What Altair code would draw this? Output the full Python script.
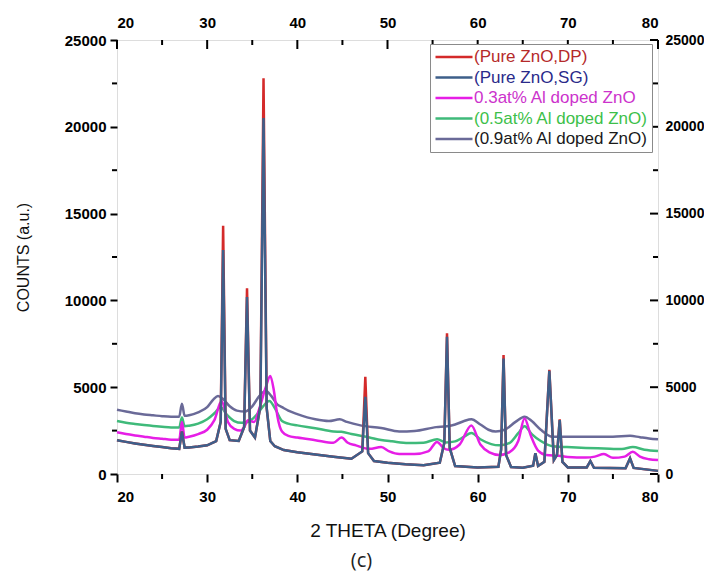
import altair as alt
import pandas as pd

# ---------------- data ----------------
series_names = ["(Pure ZnO,DP)", "(Pure ZnO,SG)", "0.3at% Al doped ZnO",
                "(0.5at% Al doped ZnO)", "(0.9at% Al doped ZnO)"]
line_colors = ["#d42a2a", "#3e5f8a", "#e61ee6", "#3fba7a", "#6a6a98"]
label_colors = ["#b52a2a", "#2a2a8a", "#cc33cc", "#3dbf4a", "#1a1a1a"]

x_major = [20, 30, 40, 50, 60, 70, 80]
x_minor = [25, 35, 45, 55, 65, 75]
y_major = [0, 5000, 10000, 15000, 20000, 25000]
y_minor = [2500, 7500, 12500, 17500, 22500]

sg_x = [20, 21, 22, 23, 24, 25, 26, 26.9, 27.2, 27.5, 28, 29, 30, 31, 31.5, 31.77, 32.05, 32.5, 33.5, 34.1,
        34.42, 34.75, 35.3, 35.9, 36.25, 36.6, 37, 37.5, 38.5, 40, 42, 44, 46, 47.2, 47.54, 47.85, 48.5, 50, 52, 54,
        55.8, 56.3, 56.6, 56.9, 57.5, 60, 62.3, 62.6, 62.87, 63.15, 63.7, 65, 66.15, 66.4, 66.7, 67.4, 67.95, 68.45, 68.8, 69.1,
        69.4, 70, 72.1, 72.5, 72.9, 76.4, 76.9, 77.3, 80]
sg_y = [1950, 1850, 1760, 1680, 1610, 1550, 1480, 1450, 2450, 1520, 1530, 1580, 1650, 1900, 3000, 12900, 2600, 1950, 1900, 2700,
        10200, 2500, 2100, 3900, 20500, 3800, 1900, 1600, 1380, 1250, 1120, 1000, 880, 1300, 4450, 1200, 750, 650, 560, 510,
        650, 1800, 7900, 1500, 460, 380, 420, 1400, 6650, 1100, 400, 360, 480, 1200, 460, 700, 5950, 800, 1100, 3100,
        700, 380, 380, 750, 360, 330, 900, 350, 180]

dp_x = sg_x
dp_y = [1950, 1850, 1760, 1680, 1610, 1550, 1480, 1450, 2450, 1520, 1530, 1580, 1650, 1900, 3000, 14300, 2600, 1950, 1900, 2700,
        10700, 2500, 2100, 3900, 22800, 3800, 1900, 1600, 1380, 1250, 1120, 1000, 880, 1300, 5600, 1200, 750, 650, 560, 510,
        650, 1800, 8100, 1500, 460, 380, 420, 1400, 6850, 1100, 400, 360, 480, 1200, 460, 700, 6000, 800, 1100, 3150,
        700, 380, 380, 750, 360, 330, 900, 350, 180]

mg_x = [20, 21, 22, 23, 24, 25, 26, 26.9, 27.2, 27.5, 28, 29, 30, 30.8, 31.6, 32.3, 33, 33.7, 34.2, 34.5,
        35.2, 35.8, 36.5, 37.0, 37.4, 37.8, 38.3, 39, 40, 42, 44, 44.9, 45.6, 46.5, 48, 49.3, 50.2, 51.3, 53, 54.5,
        55.5, 56.2, 56.8, 58, 59.3, 60.3, 61.3, 62.4, 63.5, 64.5, 65.2, 65.9, 66.7, 67.6, 69, 70, 72, 73, 74, 75,
        76.3, 77.2, 78, 79, 80]
mg_y = [2400, 2300, 2220, 2150, 2080, 2030, 1980, 1980, 3000, 2100, 2150, 2300, 2550, 3100, 4200, 3000, 2600, 2500, 2800, 3100,
        3000, 3800, 5000, 5650, 4800, 3300, 2450, 2200, 2100, 1950, 1800, 2100, 1800, 1650, 1450, 1550, 1300, 1150, 1150, 1300,
        1850, 1500, 1400, 1700, 2800, 1700, 1250, 1100, 1250, 1900, 3200, 2200, 1350, 1100, 1050, 980, 950, 1000, 1150, 930,
        1000, 1280, 1000, 850, 800]

gr_x = [20, 21, 22, 23, 24, 25, 26, 26.9, 27.2, 27.5, 28, 29, 30, 30.8, 31.5, 32.2, 33, 33.8, 34.5, 35.3,
        36.2, 36.9, 37.5, 38.3, 39, 40, 42, 44, 44.9, 46, 48, 49.3, 50.5, 52.3, 54, 55.5, 56.5, 57.5, 58.5, 59.3,
        60.3, 61.5, 62.4, 63.5, 64.5, 65.2, 66, 67, 68.3, 69.9, 72, 74, 76, 77.2, 78.5, 80]
gr_y = [3050, 2950, 2880, 2820, 2770, 2720, 2680, 2680, 3250, 2750, 2780, 2900, 3150, 3500, 3850, 3400, 3050, 2950, 3000, 3300,
        3900, 4200, 3800, 3050, 2900, 2800, 2640, 2450, 2430, 2300, 2100, 1960, 1880, 1780, 1800, 2000, 1820, 1880, 2150, 2360,
        2000, 1720, 1650, 1780, 2350, 2750, 2300, 1900, 1600, 1550, 1500, 1470, 1440, 1550, 1400, 1320]

pu_x = [20, 21, 22, 23, 24, 25, 26, 26.9, 27.2, 27.5, 28, 29, 30, 30.7, 31.2, 31.8, 32.5, 33.3, 34.2, 35,
        35.8, 36.5, 37.1, 37.8, 38.3, 39, 40, 42, 43.5, 44.7, 45.5, 47, 49.3, 51.3, 53, 55.4, 56.6, 57.5, 58.5, 59.3,
        60.3, 61.2, 62, 63, 64.2, 65.2, 66, 67, 68.3, 69.5, 71, 73, 75, 76.9, 78, 79, 80]
pu_y = [3700, 3600, 3500, 3430, 3380, 3330, 3300, 3300, 4050, 3350, 3380, 3550, 3850, 4300, 4500, 4300, 3900, 3650, 3600, 3900,
        4500, 4800, 4500, 4000, 3850, 3650, 3450, 3150, 3050, 3150, 3000, 2800, 2650, 2450, 2480, 2700, 2750, 2850, 3050, 3150,
        2850, 2550, 2450, 2550, 3000, 3300, 3050, 2550, 2150, 2150, 2150, 2150, 2150, 2200, 2120, 2050, 2000]

# ---------------- chart ----------------
W, H = 541, 434
FONT = "Liberation Sans"
xs = alt.Scale(domain=[20, 80], nice=False, zero=False)
ys = alt.Scale(domain=[0, 25000], nice=False, zero=False)
cs = alt.Scale(domain=series_names, range=line_colors)

sig = "'#1a1a1a'"
for name, col in reversed(list(zip(series_names, label_colors))):
    sig = f"datum.label === '{name}' ? '{col}' : ({sig})"

legend = alt.Legend(
    title=None, orient="none", legendX=313, legendY=4,
    fillColor="white", strokeColor="#8a8a8a", padding=4,
    symbolType="stroke", symbolSize=1369, symbolStrokeWidth=2.5,
    labelFont=FONT, labelFontSize=17, labelLimit=400, labelOffset=0,
    clipHeight=18, rowPadding=2.5,
    labelColor=alt.ExprRef(expr=sig),
)

x_axis = alt.Axis(values=x_major, tickSize=8, tickWidth=2, tickColor="black", domain=False,
                  labelFont=FONT, labelFontSize=15, labelFontWeight="bold", labelColor="black",
                  labelPadding=7, title="2 THETA (Degree)", titleFont=FONT, titleFontSize=19,
                  titleFontWeight="normal", titleColor="#111", titlePadding=17, grid=False)
y_axis = alt.Axis(values=y_major, format="d", tickSize=7, tickWidth=2, tickColor="black", domain=False,
                  labelFont=FONT, labelFontSize=15, labelFontWeight="bold", labelColor="black",
                  labelPadding=4, title="COUNTS (a.u.)", titleFont=FONT, titleFontSize=16,
                  titleFontWeight="normal", titleColor="#111", titlePadding=33, grid=False)


def series_layer(name, xv, yv, interp, with_axes):
    df = pd.DataFrame({"theta": xv, "counts": yv, "series": name})
    return alt.Chart(df).mark_line(strokeWidth=2.5, interpolate=interp).encode(
        x=alt.X("theta:Q", scale=xs, axis=x_axis if with_axes else None),
        y=alt.Y("counts:Q", scale=ys, axis=y_axis if with_axes else None),
        color=alt.Color("series:N", scale=cs, legend=legend),
    )


layers = [
    series_layer(series_names[4], pu_x, pu_y, "monotone", True),
    series_layer(series_names[3], gr_x, gr_y, "monotone", False),
    series_layer(series_names[2], mg_x, mg_y, "monotone", False),
    series_layer(series_names[0], dp_x, dp_y, "linear", False),
    series_layer(series_names[1], sg_x, sg_y, "linear", False),
]

tick = dict(color="black", strokeWidth=2)

top_major = alt.Chart(pd.DataFrame({"v": x_major})).mark_rule(**tick).encode(
    x=alt.X("v:Q", scale=xs, axis=alt.Axis(orient="top", values=x_major, ticks=False, domain=False,
                                           labelFont=FONT, labelFontSize=15, labelFontWeight="bold",
                                           labelColor="black", labelPadding=10, title=None, grid=False)),
    y=alt.value(0), y2=alt.value(9))
top_minor = alt.Chart(pd.DataFrame({"v": x_minor})).mark_rule(**tick).encode(
    x=alt.X("v:Q", scale=xs, axis=None), y=alt.value(0), y2=alt.value(5))
bottom_minor = alt.Chart(pd.DataFrame({"v": x_minor})).mark_rule(**tick).encode(
    x=alt.X("v:Q", scale=xs, axis=None), y=alt.value(H), y2=alt.value(H + 5))
right_major = alt.Chart(pd.DataFrame({"v": y_major})).mark_rule(**tick).encode(
    y=alt.Y("v:Q", scale=ys, axis=alt.Axis(orient="right", values=y_major, format="d", ticks=False, domain=False,
                                           labelFont=FONT, labelFontSize=14, labelFontWeight="bold",
                                           labelColor="black", labelPadding=7, title=None, grid=False)),
    x=alt.value(W), x2=alt.value(W - 8))
right_minor = alt.Chart(pd.DataFrame({"v": y_minor})).mark_rule(**tick).encode(
    y=alt.Y("v:Q", scale=ys, axis=None), x=alt.value(W), x2=alt.value(W - 5))
left_minor = alt.Chart(pd.DataFrame({"v": y_minor})).mark_rule(**tick).encode(
    y=alt.Y("v:Q", scale=ys, axis=None), x=alt.value(0), x2=alt.value(-5))

chart = alt.layer(
    *layers, top_major, top_minor, bottom_minor, right_major, right_minor, left_minor
).resolve_axis(
    x="independent", y="independent"
).properties(
    width=W, height=H,
    autosize=alt.AutoSizeParams(type="none"),
    padding={"left": 109, "top": 32, "right": 46, "bottom": 98},
    title=alt.TitleParams("(c)", orient="bottom", anchor="middle", font="Open Sans",
                          fontSize=20, fontWeight="normal", color="#222", offset=11, dx=-26),
).configure_view(
    stroke="black", strokeWidth=2
).configure(background="white")

chart.save("out.html", embed_options={"renderer": "svg", "actions": False})
